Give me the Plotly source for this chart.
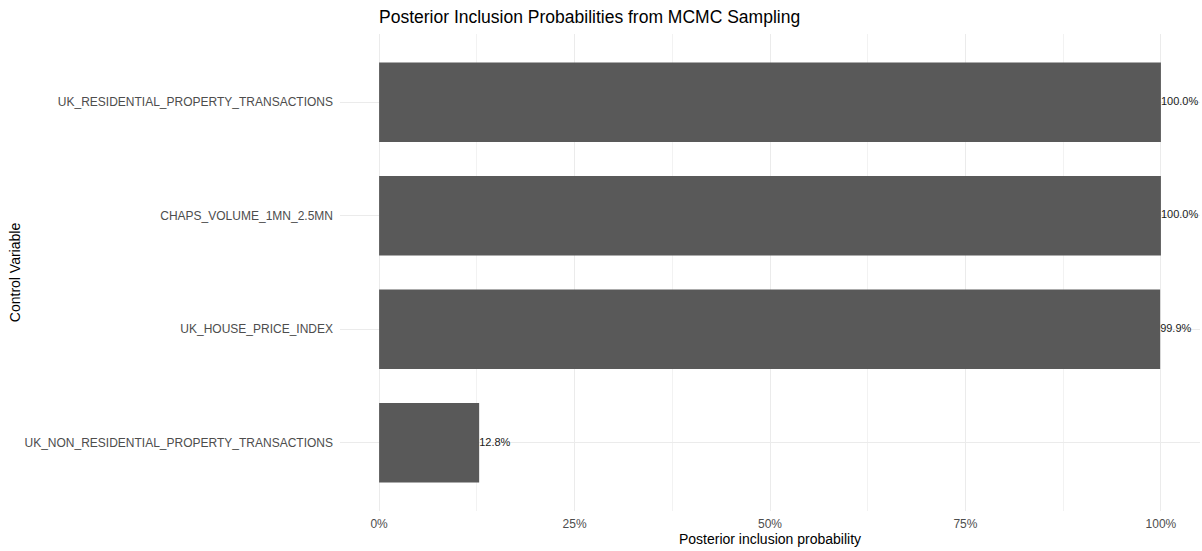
import plotly.graph_objects as go

# Data (bottom-to-top order for plotly horizontal bars)
variables = [
    "UK_NON_RESIDENTIAL_PROPERTY_TRANSACTIONS",
    "UK_HOUSE_PRICE_INDEX",
    "CHAPS_VOLUME_1MN_2.5MN",
    "UK_RESIDENTIAL_PROPERTY_TRANSACTIONS",
]
probabilities = [0.128, 0.999, 1.0, 1.0]
labels = [f"{p*100:.1f}%" for p in probabilities]

FONT = "Liberation Sans, Arial, sans-serif"

fig = go.Figure()
fig.add_trace(go.Bar(
    x=probabilities, y=variables, orientation="h",
    marker=dict(color="#595959", line=dict(width=0)),
    width=0.7, hoverinfo="x+y", showlegend=False,
))
fig.add_trace(go.Scatter(
    x=probabilities, y=variables, mode="text", text=labels,
    textposition="middle right",
    textfont=dict(family=FONT, size=11, color="#1a1a1a"),
    showlegend=False, hoverinfo="skip", cliponaxis=False,
))

fig.update_layout(
    width=1202, height=551,
    margin=dict(l=340, r=2, t=34, b=40),
    plot_bgcolor="white", paper_bgcolor="white",
    font=dict(family=FONT, color="#4d4d4d"),
    title=dict(
        text="Posterior Inclusion Probabilities from MCMC Sampling",
        x=379/1202, xanchor="left", y=1 - 17/551, yanchor="middle",
        font=dict(family=FONT, size=17.5, color="black"),
    ),
    bargap=0.3,
)
fig.update_xaxes(
    range=[-0.05, 1.05], tickvals=[0, 0.25, 0.5, 0.75, 1.0],
    ticktext=["0%", "25%", "50%", "75%", "100%"],
    showgrid=True, gridcolor="#ebebeb", gridwidth=1,
    zeroline=False, showline=False, ticks="",
    tickfont=dict(family=FONT, size=12, color="#4d4d4d"),
    ticklabelstandoff=4,
    minor=dict(tickvals=[0.125, 0.375, 0.625, 0.875], showgrid=True,
               gridcolor="#f2f2f2", gridwidth=1, ticks=""),
    title=dict(text="Posterior inclusion probability", standoff=3,
               font=dict(family=FONT, size=14, color="black")),
)
fig.update_yaxes(
    type="category", categoryorder="array", categoryarray=variables,
    range=[-0.6, 3.6],
    showgrid=True, gridcolor="#ebebeb", gridwidth=1,
    zeroline=False, showline=False, ticks="",
    tickfont=dict(family=FONT, size=12, color="#4d4d4d"),
    ticklabelstandoff=6,
    title=dict(text="Control Variable", standoff=0,
               font=dict(family=FONT, size=14, color="black")),
)

fig.write_html("out.html", config={"displayModeBar": False},
               post_script="document.body.style.margin='0';")
